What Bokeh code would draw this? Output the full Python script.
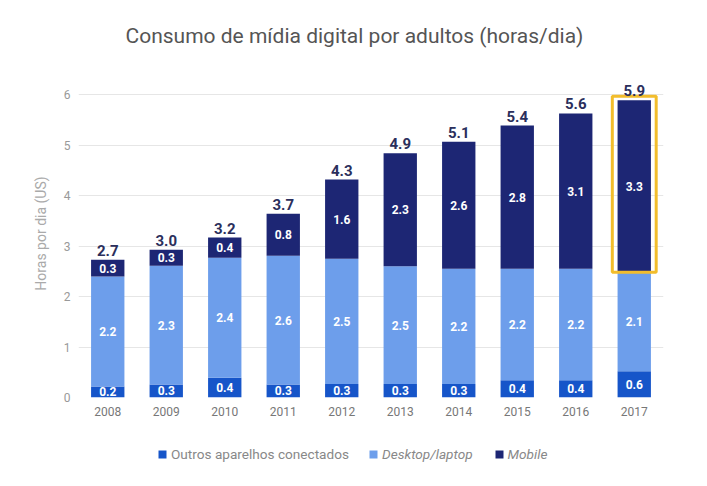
from bokeh.plotting import figure
from bokeh.layouts import column
from bokeh.models import (ColumnDataSource, FactorRange, Range1d, FixedTicker,
                          Legend, LegendItem)
from bokeh.core.properties import value
from bokeh.embed import file_html
from bokeh.resources import INLINE

# ---- data ----
years = ["2008", "2009", "2010", "2011", "2012", "2013", "2014", "2015", "2016", "2017"]
# drawn segment heights (hours/day)
outros = [0.22, 0.26, 0.39, 0.26, 0.27, 0.27, 0.27, 0.34, 0.34, 0.52]
desktop = [2.18, 2.35, 2.38, 2.55, 2.48, 2.33, 2.28, 2.21, 2.21, 1.96]
mobile = [0.33, 0.32, 0.40, 0.83, 1.57, 2.24, 2.52, 2.84, 3.08, 3.41]
# printed labels
outros_lbl = [0.2, 0.3, 0.4, 0.3, 0.3, 0.3, 0.3, 0.4, 0.4, 0.6]
desktop_lbl = [2.2, 2.3, 2.4, 2.6, 2.5, 2.5, 2.2, 2.2, 2.2, 2.1]
mobile_lbl = [0.3, 0.3, 0.4, 0.8, 1.6, 2.3, 2.6, 2.8, 3.1, 3.3]
total_lbl = [2.7, 3.0, 3.2, 3.7, 4.3, 4.9, 5.1, 5.4, 5.6, 5.9]
y_ticks = [0, 1, 2, 3, 4, 5, 6]
highlight_year = "2017"

series_names = ["Outros aparelhos conectados", "Desktop/laptop", "Mobile"]
colors = ["#1655c9", "#6d9eeb", "#1d2674"]
FONT = "Roboto"

top_d = [o + d for o, d in zip(outros, desktop)]
top_m = [t + m for t, m in zip(top_d, mobile)]

src = ColumnDataSource(dict(
    year=years, outros=outros, desktop=desktop, mobile=mobile,
    y_o=[o / 2 for o in outros],
    y_d=[o + d / 2 for o, d in zip(outros, desktop)],
    y_m=[t + m / 2 for t, m in zip(top_d, mobile)],
    top=top_m,
    l_o=["%.1f" % v for v in outros_lbl],
    l_d=["%.1f" % v for v in desktop_lbl],
    l_m=["%.1f" % v for v in mobile_lbl],
    l_t=["%.1f" % v for v in total_lbl],
))

p = figure(x_range=FactorRange(*years), y_range=Range1d(0, 6.5),
           width=691, height=430, output_backend="svg", toolbar_location=None,
           min_border_left=78, min_border_right=28, min_border_top=69,
           min_border_bottom=33)
p.outline_line_color = None
p.background_fill_color = "white"
p.border_fill_color = "white"

p.title.text = "Consumo de mídia digital por adultos (horas/dia)"
p.title.align = "left"
p.title.text_font = FONT
p.title.text_font_size = "21px"
p.title.text_font_style = "normal"
p.title.text_color = "#555555"
p.title.offset = 47
p.title.standoff = 43

# grid
p.xgrid.grid_line_color = None
p.ygrid.grid_line_color = "#e6e6e6"
p.ygrid.grid_line_width = 1

# axes
p.yaxis.ticker = FixedTicker(ticks=y_ticks)
p.yaxis.axis_label = "Horas por dia (US)"
p.yaxis.axis_label_text_font = FONT
p.yaxis.axis_label_text_font_size = "14px"
p.yaxis.axis_label_text_font_style = "normal"
p.yaxis.axis_label_text_color = "#aaaaaa"
p.yaxis.axis_label_standoff = 12
p.yaxis.major_label_text_font = FONT
p.yaxis.major_label_text_font_size = "12px"
p.yaxis.major_label_text_color = "#999999"
p.yaxis.major_label_standoff = 8
p.xaxis.major_label_text_font = FONT
p.xaxis.major_label_text_font_size = "12px"
p.xaxis.major_label_text_color = "#777777"
p.xaxis.major_label_standoff = 9
for ax in (p.xaxis, p.yaxis):
    ax.axis_line_color = None
    ax.major_tick_line_color = None
    ax.minor_tick_line_color = None
    ax.major_tick_out = 0
    ax.major_tick_in = 0
    ax.minor_tick_out = 0

# bars
rs = p.vbar_stack(["outros", "desktop", "mobile"], x="year", width=0.57,
                  color=colors, line_width=0, source=src)

# highlight box around the 2017 mobile segment
i = years.index(highlight_year)
p.quad(left=[(highlight_year, -0.375)], right=[(highlight_year, 0.375)],
       bottom=[top_d[i]], top=[top_m[i] + 0.08],
       fill_color=None, line_color="#f2bd2c", line_width=3)

# in-bar labels
for ycol, lcol in (("y_o", "l_o"), ("y_d", "l_d"), ("y_m", "l_m")):
    p.text(x="year", y=ycol, text=lcol, source=src, text_align="center",
           text_baseline="middle", text_color="white",
           text_font=value(FONT), text_font_size="12px", text_font_style="bold")

# totals
p.text(x="year", y="top", text="l_t", source=src, text_align="center",
       text_baseline="bottom", y_offset=-4, text_color="#2b2f5c",
       text_font=value(FONT), text_font_size="15px", text_font_style="bold")

# ---- legend strip below the chart (its frame is aligned with the chart's) ----
lf = figure(width=691, height=40, x_range=Range1d(0, 1), y_range=Range1d(0, 1),
            x_axis_type=None, y_axis_type=None, output_backend="svg",
            toolbar_location=None, min_border=0)
lf.outline_line_color = None
lf.xgrid.visible = False
lf.ygrid.visible = False
# hidden swatch renderers; they only feed the legend glyphs
swatches = []
for c in colors:
    r = lf.vbar(x=[0.5], top=[1], width=0.1, fill_color=c, line_color=c,
                line_width=0)
    r.visible = False
    swatches.append(r)

common = dict(orientation="horizontal", padding=0, margin=0,
              glyph_width=10, glyph_height=10, label_standoff=4,
              label_height=14, spacing=21, label_text_font=FONT,
              label_text_font_size="13.6px", label_text_color="#888888",
              border_line_color=None, background_fill_alpha=0,
              inactive_fill_alpha=0, click_policy="none")
leg_a = Legend(items=[LegendItem(label=series_names[0], renderers=[swatches[0]])],
               location=(79, 8), label_text_font_style="normal", **common)
leg_b = Legend(items=[LegendItem(label=series_names[1], renderers=[swatches[1]]),
                      LegendItem(label=series_names[2], renderers=[swatches[2]])],
               location=(290, 8), label_text_font_style="italic", **common)
lf.add_layout(leg_a, "center")
lf.add_layout(leg_b, "center")

layout = column(p, lf, spacing=0)
open("out.html", "w").write(file_html(layout, INLINE))
